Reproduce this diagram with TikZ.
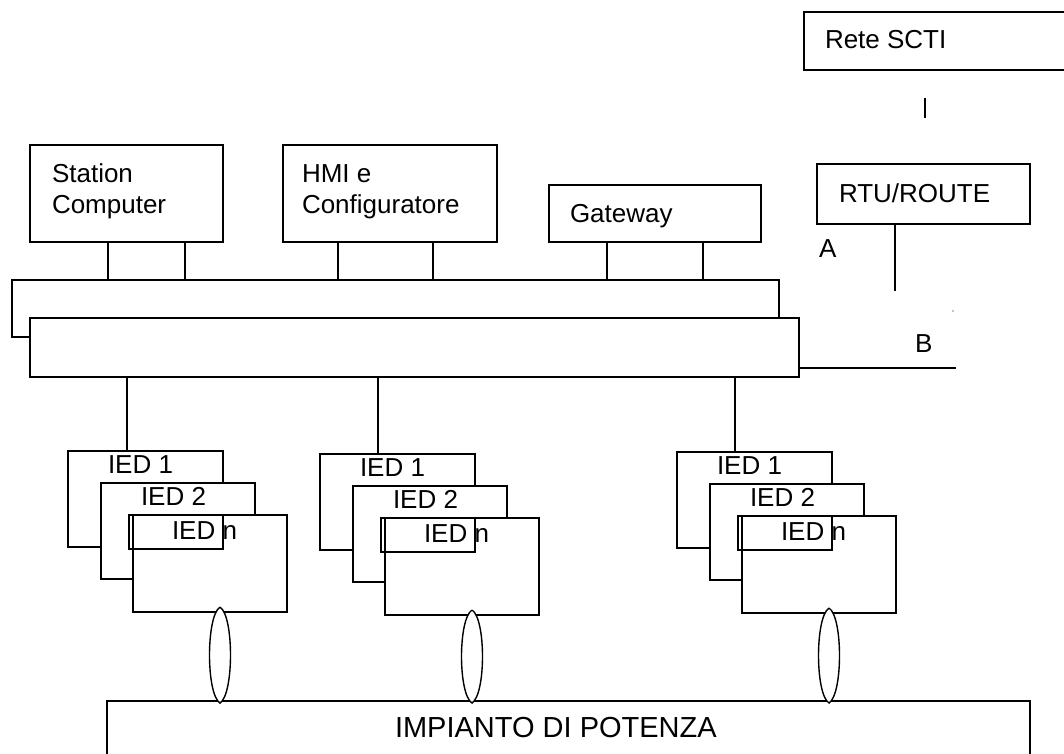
\documentclass[tikz,border=0pt]{standalone}
\usepackage{fontspec}
\setmainfont{Liberation Sans}
\begin{document}
\begin{tikzpicture}[x=1pt,y=-1pt,
  every node/.style={inner sep=0pt,outer sep=0pt},
  box/.style={draw,line width=1.4pt,fill=white,rectangle,anchor=north west},
  lbl/.style={anchor=base west,font=\fontsize{26}{31}\selectfont},
  wire/.style={line width=1.6pt},
  lens/.style={draw,line width=1.4pt,fill=white}]
\useasboundingbox (0,0) rectangle (1064,753);
% top right
\node[box,minimum width=270pt,minimum height=58pt] (rete) at (804,12) {};
\node[lbl] (retet) at (825,48) {Rete SCTI};
\coordinate (s1) at (925,98); \coordinate (s2) at (925,118);
\draw[wire] (s1) -- (s2);
\node[box,minimum width=213pt,minimum height=60pt] (rtu) at (817,164) {};
\node[lbl] (rtut) at (839,202) {RTU/ROUTE};
\node[lbl] (A) at (819,257) {A};
\coordinate (rtuend) at (895,291);
\draw[wire] (rtu.south west -| rtuend) -- (rtuend);
\fill (953,311) circle (0.7pt);
% station level boxes
\node[box,minimum width=193pt,minimum height=97pt] (sc) at (30,145) {};
\node[lbl] at (52,182) {Station};
\node[lbl] at (52,213) {Computer};
\node[box,minimum width=214pt,minimum height=97pt] (hmi) at (283,145) {};
\node[lbl] at (302,182) {HMI e};
\node[lbl] at (302,213) {Configuratore};
\node[box,minimum width=212pt,minimum height=57pt] (gw) at (549,185) {};
\node[lbl] at (570,222) {Gateway};
% buses
\node[box,minimum width=767pt,minimum height=57pt] (bus1) at (12,280) {};
\node[box,minimum width=769pt,minimum height=59pt] (bus2) at (30,318) {};
\foreach \n/\xx/\src in {a/108/sc,b/185/sc,c/338/hmi,d/433/hmi,e/607/gw,f/703/gw}{
  \coordinate (c\n) at (\xx,0);
  \draw[wire] (\src.south -| c\n) -- (bus1.north -| c\n);
}
\coordinate (bend) at (956,368);
\draw[wire] (bus2.east |- bend) -- (bend);
\node[lbl] (B) at (915,352) {B};
% power plant
\node[box,minimum width=923pt,minimum height=80pt] (pp) at (107,701) {};
\node[lbl,font=\fontsize{29}{34}\selectfont] at (395,737) {IMPIANTO DI POTENZA};
% IED groups
\foreach \g/\X/\Y/\dx in {1/68/451/127,2/320/454/378,3/677/452/735}{
  \node[box,minimum width=155pt,minimum height=96pt] (ied1g\g) at (\X,\Y) {};
  \node[lbl] at (\X+40,\Y+22) {IED 1};
  \node[box,minimum width=154pt,minimum height=96pt] (ied2g\g) at (\X+33,\Y+32) {};
  \node[lbl] at (\X+73,\Y+54) {IED 2};
  \node[box,minimum width=154pt,minimum height=97pt] (iedng\g) at (\X+65,\Y+64) {};
  \node[lbl] at (\X+104,\Y+88) {IED n};
  \draw[line width=1.2pt] (\X+61,\Y+64) rectangle (\X+155,\Y+98);
  \coordinate (dg\g) at (\dx,0);
  \draw[wire] (bus2.south -| dg\g) -- (ied1g\g.north -| dg\g);
  \coordinate (ot\g) at (\X+152,\Y+156);
  \coordinate (ob\g) at (\X+152,703);
  \draw[lens] (ot\g) .. controls ([xshift=-14pt,yshift=-9pt]ot\g) and ([xshift=-14pt,yshift=9pt]ob\g) .. (ob\g)
     .. controls ([xshift=14pt,yshift=9pt]ob\g) and ([xshift=14pt,yshift=-9pt]ot\g) .. (ot\g);
}
\end{tikzpicture}
\end{document}
